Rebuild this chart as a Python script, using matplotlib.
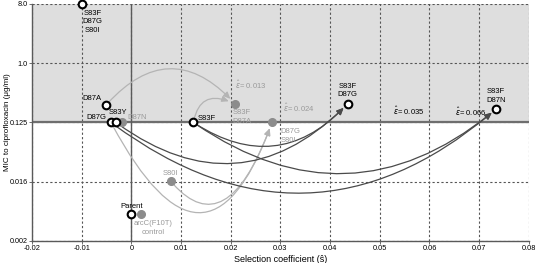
import matplotlib
matplotlib.use("Agg")
import matplotlib.pyplot as plt
from matplotlib.patches import FancyArrowPatch

plt.rcParams['font.family'] = ['Liberation Sans', 'DejaVu Sans']
plt.rcParams['mathtext.fontset'] = 'dejavusans'

# genotypes drawn as open circles (selection coefficient, MIC)
open_names = ["S83F\nD87G\nS80I", "D87A", "D87G", "S83Y", "S83F", "S83F\nD87G", "S83F\nD87N", "Parent"]
open_s = [-0.01, -0.0051, -0.0041, -0.0031, 0.0125, 0.0435, 0.0734, 0.0]
open_mic = [8.0, 0.23, 0.125, 0.125, 0.125, 0.24, 0.20, 0.005]

# genotypes drawn as grey filled circles
grey_names = ["D87N", "S83F\nD87A", "D87G\nS80I", "S80I", "arcC(F10T)\ncontrol"]
grey_s = [-0.0019, 0.0209, 0.0283, 0.0079, 0.0019]
grey_mic = [0.125, 0.24, 0.125, 0.016, 0.005]

# epistasis values
eps_labels = ["0.013", "0.024", "0.035", "0.066"]

xticks = [-0.02, -0.01, 0, 0.01, 0.02, 0.03, 0.04, 0.05, 0.06, 0.07, 0.08]
xticklabels = ["-0.02", "-0.01", "0", "0.01", "0.02", "0.03", "0.04", "0.05", "0.06", "0.07", "0.08"]
yticks = [8.0, 1.0, 0.125, 0.015625, 0.001953125]
yticklabels = ["8.0", "1.0", "0.125", "0.016", "0.002"]

DARK = "#4a4a4a"
LIGHT = "#b4b4b4"
GREYPT = "#8c8c8c"
GREYTXT = "#9a9a9a"

fig = plt.figure(figsize=(5.38, 2.63), dpi=100)
ax = fig.add_axes([0.0595, 0.0837, 0.9235, 0.9011])
ax.set_yscale("log", base=2)
ax.set_xlim(-0.02, 0.08)
ax.set_ylim(0.001953125, 8.0)

ax.axhspan(0.125, 8.0, color="#dedede", zorder=0)
for x in xticks:
    ax.axvline(x, color="#555555", lw=0.8, ls=(0, (2, 2)), zorder=1)
for y in yticks:
    ax.axhline(y, color="#555555", lw=0.8, ls=(0, (2, 2)), zorder=1)
ax.axhline(0.125, color="#6e6e6e", lw=1.6, zorder=2)
ax.axvline(0, color="#5a5a5a", lw=1.0, zorder=2)

ax.set_xticks(xticks)
ax.set_xticklabels(xticklabels, fontsize=5.3)
ax.set_yticks(yticks)
ax.set_yticklabels(yticklabels, fontsize=5.2)
ax.minorticks_off()
ax.tick_params(length=2, width=0.6, color="#555555", pad=1)
for side in ["top", "right"]:
    ax.spines[side].set_visible(False)
for side in ["left", "bottom"]:
    ax.spines[side].set_color("#5a5a5a")
    ax.spines[side].set_linewidth(1.0)
ax.set_xlabel("Selection coefficient (ŝ)", fontsize=6.5, labelpad=2)
ax.set_ylabel("MIC to ciprofloxacin (\u03bcg/ml)", fontsize=5.8)
ax.yaxis.set_label_coords(-0.043, 0.5)


def arrow(a, b, conn, color, sa=2, sb=4):
    p = FancyArrowPatch(a, b, connectionstyle=conn,
                        arrowstyle="-|>,head_length=0.4,head_width=0.18",
                        mutation_scale=10, color=color, lw=0.9,
                        shrinkA=sa, shrinkB=sb, zorder=3)
    ax.add_patch(p)


o = list(zip(open_s, open_mic))
g = list(zip(grey_s, grey_mic))

# light grey paths
arrow(o[1], g[1], "arc3,rad=-0.55", LIGHT, sb=5)
arrow(o[4], g[1], "angle3,angleA=80,angleB=155", LIGHT, sb=5)
arrow(o[2], g[2], "angle3,angleA=-62,angleB=70", LIGHT, sb=4.5)
arrow(g[3], g[2], "angle3,angleA=-50,angleB=70", LIGHT, sa=3, sb=4.5)
# dark paths
arrow(o[4], o[5], "arc3,rad=0.42", DARK)
arrow(o[3], o[5], "arc3,rad=0.43", DARK)
arrow(o[4], o[6], "arc3,rad=0.38", DARK)
arrow(o[2], o[6], "arc3,rad=0.40", DARK)

ax.plot(grey_s, grey_mic, "o", ms=5.5, color=GREYPT, mec=GREYPT, zorder=5, clip_on=False)
ax.plot(open_s, open_mic, "o", ms=5.5, mfc="white", mec="black", mew=1.5, zorder=6, clip_on=False)

fs = 5.5
txt = dict(fontsize=fs, color="black", linespacing=1.35)
gtxt = dict(fontsize=fs, color=GREYTXT, linespacing=1.35)

ax.annotate(open_names[0], o[0], xytext=(8, -4), textcoords="offset points", ha="center", va="top", **txt)
ax.annotate(open_names[1], o[1], xytext=(-3, 2), textcoords="offset points", ha="right", va="bottom", **txt)
ax.annotate(open_names[2], o[2], xytext=(-3, 1), textcoords="offset points", ha="right", va="bottom", **txt)
ax.annotate(open_names[3], o[3], xytext=(-5, 5), textcoords="offset points", ha="left", va="bottom", **txt)
ax.annotate(open_names[4], o[4], xytext=(3, 0), textcoords="offset points", ha="left", va="bottom", **txt)
ax.annotate(open_names[5], o[5], xytext=(0, 4), textcoords="offset points", ha="center", va="bottom", **txt)
ax.annotate(open_names[6], o[6], xytext=(0, 4), textcoords="offset points", ha="center", va="bottom", **txt)
ax.annotate(open_names[7], o[7], xytext=(0, 3), textcoords="offset points", ha="center", va="bottom", **txt)

ax.annotate(grey_names[0], g[0], xytext=(4, 1), textcoords="offset points", ha="left", va="bottom", **gtxt)
ax.annotate(grey_names[1], g[1], xytext=(-2, -4), textcoords="offset points", ha="left", va="top", **gtxt)
ax.annotate(grey_names[2], g[2], xytext=(6, -4), textcoords="offset points", ha="left", va="top", **gtxt)
ax.annotate(grey_names[3], g[3], xytext=(0, 3), textcoords="offset points", ha="center", va="bottom", **gtxt)
ax.annotate(grey_names[4], g[4], xytext=(9, -4), textcoords="offset points", ha="center", va="top", **gtxt)

eps = r"$\hat{\varepsilon}$= "
ax.annotate(eps + eps_labels[0], g[1], xytext=(0, 9), textcoords="offset points", ha="left", va="bottom", **gtxt)
ax.annotate(eps + eps_labels[1], g[2], xytext=(8, 6), textcoords="offset points", ha="left", va="bottom", **gtxt)
ax.annotate(eps + eps_labels[2], o[5], xytext=(33, -5), textcoords="offset points", ha="left", va="center", **txt)
ax.annotate(eps + eps_labels[3], o[6], xytext=(-7, -2), textcoords="offset points", ha="right", va="center", **txt)

fig.savefig("out.png", dpi=100)
